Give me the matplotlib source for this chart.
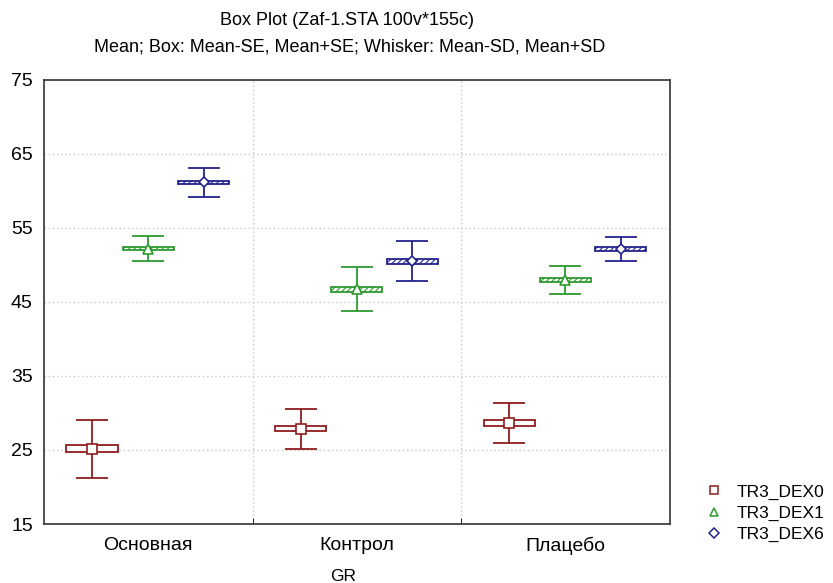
import matplotlib
matplotlib.use("Agg")
import matplotlib.pyplot as plt
from matplotlib.lines import Line2D
import numpy as np

plt.rcParams['font.family'] = ['Liberation Sans', 'DejaVu Sans']
plt.rcParams['hatch.linewidth'] = 0.8

groups = ["Основная", "Контрол", "Плацебо"]
series = ["TR3_DEX0", "TR3_DEX1", "TR3_DEX6"]
colors = ["#8f1c1c", "#2e9a2e", "#23238f"]
markers = ["s", "^", "D"]
hatches = [None, "//////", "//////"]

means = {
    "TR3_DEX0": [25.15, 27.85, 28.65],
    "TR3_DEX1": [52.22, 46.72, 47.98],
    "TR3_DEX6": [61.17, 50.50, 52.17],
}
se = {
    "TR3_DEX0": [0.47, 0.34, 0.36],
    "TR3_DEX1": [0.23, 0.36, 0.24],
    "TR3_DEX6": [0.20, 0.31, 0.27],
}
sd = {
    "TR3_DEX0": [3.90, 2.73, 2.65],
    "TR3_DEX1": [1.64, 2.95, 1.87],
    "TR3_DEX6": [2.00, 2.72, 1.66],
}

yticks = [15, 25, 35, 45, 55, 65, 75]

fig = plt.figure(figsize=(8.33, 5.83), dpi=100)
ax = fig.add_axes([0.0528, 0.1012, 0.7512, 0.7616])

offsets = [-0.27, 0.0, 0.265]
box_w = 0.245
x = np.arange(len(groups))

for i, s in enumerate(series):
    m = np.array(means[s]); e = np.array(se[s]); d = np.array(sd[s])
    xs = x + offsets[i]
    ax.errorbar(xs, m, yerr=d, fmt='none', ecolor=colors[i], elinewidth=1.3,
                capsize=11.5, capthick=1.3, zorder=3)
    ax.bar(xs, 2 * e, bottom=m - e, width=box_w, facecolor='white',
           edgecolor=colors[i], hatch=hatches[i], linewidth=1.3, zorder=4)
    ax.plot(xs, m, linestyle='none', marker=markers[i],
            markersize=6.5 if markers[i] != 'D' else 5.5,
            markerfacecolor='white', markeredgecolor=colors[i],
            markeredgewidth=1.2, zorder=5)

ax.set_xlim(-0.5, 2.5)
ax.set_ylim(15, 75)
ax.set_yticks(yticks)
ax.set_yticklabels([str(t) for t in yticks], fontsize=14)
ax.set_xticks(x)
ax.set_xticklabels(groups, fontsize=14)
ax.set_xticks([0.5, 1.5], minor=True)
ax.tick_params(axis='x', which='major', length=0, pad=9)
ax.tick_params(axis='x', which='minor', length=4, direction='in')
ax.tick_params(axis='y', length=0, pad=8)

ax.grid(True, axis='y', which='major', linestyle=(0, (1, 2)), color='#c8c8c8', linewidth=1)
ax.grid(True, axis='x', which='minor', linestyle=(0, (1, 2)), color='#c8c8c8', linewidth=1)
ax.set_axisbelow(True)
for sp in ax.spines.values():
    sp.set_color('#333333')
    sp.set_linewidth(1.2)

fig.text(0.412, 0.004, "GR", ha='center', va='baseline', fontsize=12.5)

fig.text(0.417, 0.964, "Box Plot (Zaf-1.STA 100v*155c)", ha='center', va='center', fontsize=13)
fig.text(0.42, 0.919, "Mean; Box: Mean-SE, Mean+SE; Whisker: Mean-SD, Mean+SD",
         ha='center', va='center', fontsize=13)

handles = [Line2D([], [], linestyle='none', marker=markers[i],
                  markersize=6 if markers[i] != 'D' else 5,
                  markerfacecolor='white', markeredgecolor=colors[i], markeredgewidth=1.1)
           for i in range(len(series))]
fig.legend(handles, series, loc='upper left', bbox_to_anchor=(0.838, 0.181),
           frameon=False, fontsize=12.5, handlelength=1.0, handletextpad=0.85,
           labelspacing=0.33, borderaxespad=0)

fig.savefig("out.png", dpi=100)
